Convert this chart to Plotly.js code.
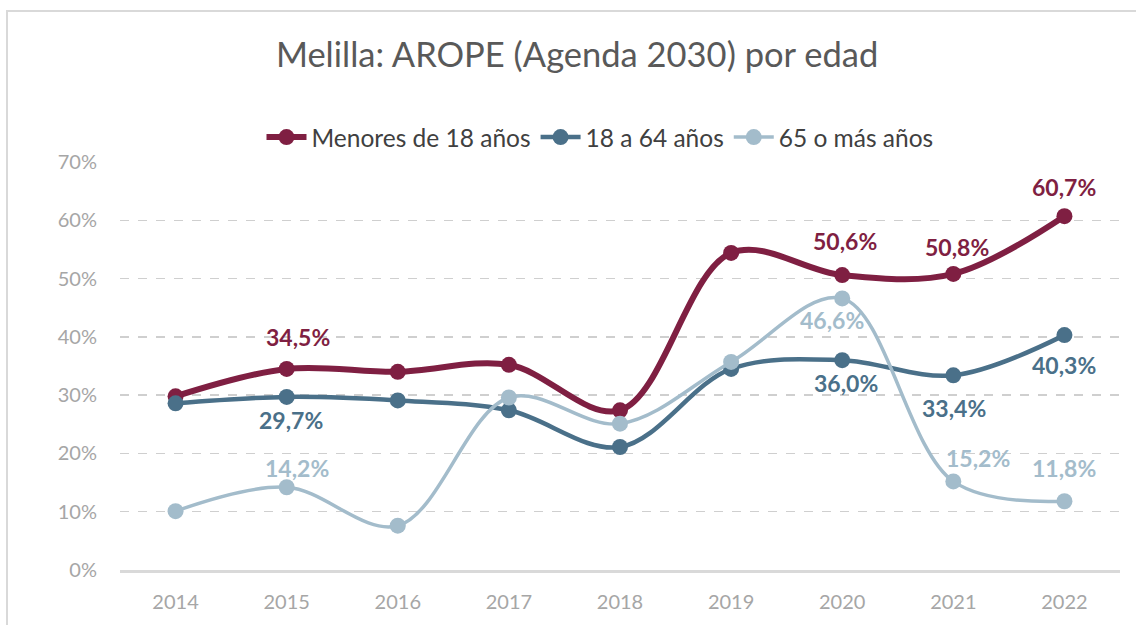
<!DOCTYPE html>
<html><head><meta charset="utf-8">
<script src="https://cdn.plot.ly/plotly-3.0.1.min.js"></script>
<style>
html,body{margin:0;padding:0;background:#fff;}
#wrap{position:relative;width:1136px;height:625px;}
#chart{width:1136px;height:625px;}
#frame{position:absolute;left:6px;top:10px;width:1140px;height:630px;border:2px solid #d9d9d9;pointer-events:none;box-sizing:border-box;}
</style></head>
<body><div id="wrap"><div id="chart"></div><div id="frame"></div></div>
<script>
const years = ['2014','2015','2016','2017','2018','2019','2020','2021','2022'];
const menores = [29.8, 34.5, 34.0, 35.2, 27.4, 54.4, 50.6, 50.8, 60.7];
const adultos = [28.6, 29.7, 29.1, 27.4, 21.1, 34.5, 36.0, 33.4, 40.3];
const mayores = [10.1, 14.2, 7.6, 29.6, 25.1, 35.7, 46.6, 15.2, 11.8];
const names = ['Menores de 18 años', '18 a 64 años', '65 o más años'];
const labelMenores = ['', '34,5%', '', '', '', '', '50,6%', '50,8%', '60,7%'];
const labelAdultos = ['', '29,7%', '', '', '', '', '36,0%', '33,4%', '40,3%'];
const labelMayores = ['', '14,2%', '', '', '', '', '46,6%', '15,2%', '11,8%'];

const FONT = 'Lato, "Open Sans", sans-serif';
const colors = ['#7f1f42', '#4a7089', '#a3bccb'];
const widths = [6, 4.5, 3.5];
// label pixel offsets from their point [xshift, yshift]
const offsets = [
  [null, [11, 32], null, null, null, null, [3, 34], [4, 27], [0, 29]],
  [null, [4, -23], null, null, null, null, [4, -23], [1, -33], [0, -30]],
  [null, [10, 19], null, null, null, null, [-10, -22], [25, 23], [0, 33]]
];
const series = [menores, adultos, mayores];
const labels = [labelMenores, labelAdultos, labelMayores];

const data = series.map((s, k) => ({
  x: years, y: s, name: names[k], type: 'scatter', mode: 'lines+markers',
  line: {color: colors[k], width: widths[k], shape: 'spline', smoothing: 1},
  marker: {color: colors[k], size: 16},
  cliponaxis: false
}));

const annotations = [];
labels.forEach((arr, k) => {
  arr.forEach((t, i) => {
    if (!t) return;
    const o = offsets[k][i];
    annotations.push({
      x: i, y: series[k][i], xref: 'x', yref: 'y', text: t, showarrow: false,
      xanchor: 'center', yanchor: 'middle', xshift: o[0], yshift: o[1],
      font: {family: FONT, size: 23, color: colors[k], weight: 'bold'}
    });
  });
});

const layout = {
  width: 1136, height: 625,
  margin: {l: 120, r: 16, t: 162, b: 55},
  paper_bgcolor: '#ffffff', plot_bgcolor: '#ffffff',
  title: {text: 'Melilla: AROPE (Agenda 2030) por edad', x: 0.508, xanchor: 'center', y: 0.912, yanchor: 'middle',
          font: {family: FONT, size: 34.5, color: '#595959'}},
  showlegend: true,
  legend: {orientation: 'h', x: 0.48, xanchor: 'center', y: 1.061, yanchor: 'middle',
           font: {family: FONT, size: 24.5, color: '#404040'}, itemwidth: 40},
  annotations: annotations,
  xaxis: {type: 'category', range: [-0.5, 8.5], showgrid: false, zeroline: false,
          showline: true, linecolor: '#d9d9d9', linewidth: 3, ticks: '',
          tickfont: {family: FONT, size: 20, color: '#a6a6a6'}, ticklabelstandoff: 12},
  yaxis: {range: [0, 70], dtick: 10, ticksuffix: '%', showgrid: true, gridcolor: '#cfcfcf',
          griddash: 'dash', gridwidth: 1.3, zeroline: false, showline: false, ticks: '',
          tickfont: {family: FONT, size: 20, color: '#a6a6a6'}, ticklabelstandoff: 22}
};
Plotly.newPlot('chart', data, layout, {displayModeBar: false, staticPlot: true});
</script></body></html>
